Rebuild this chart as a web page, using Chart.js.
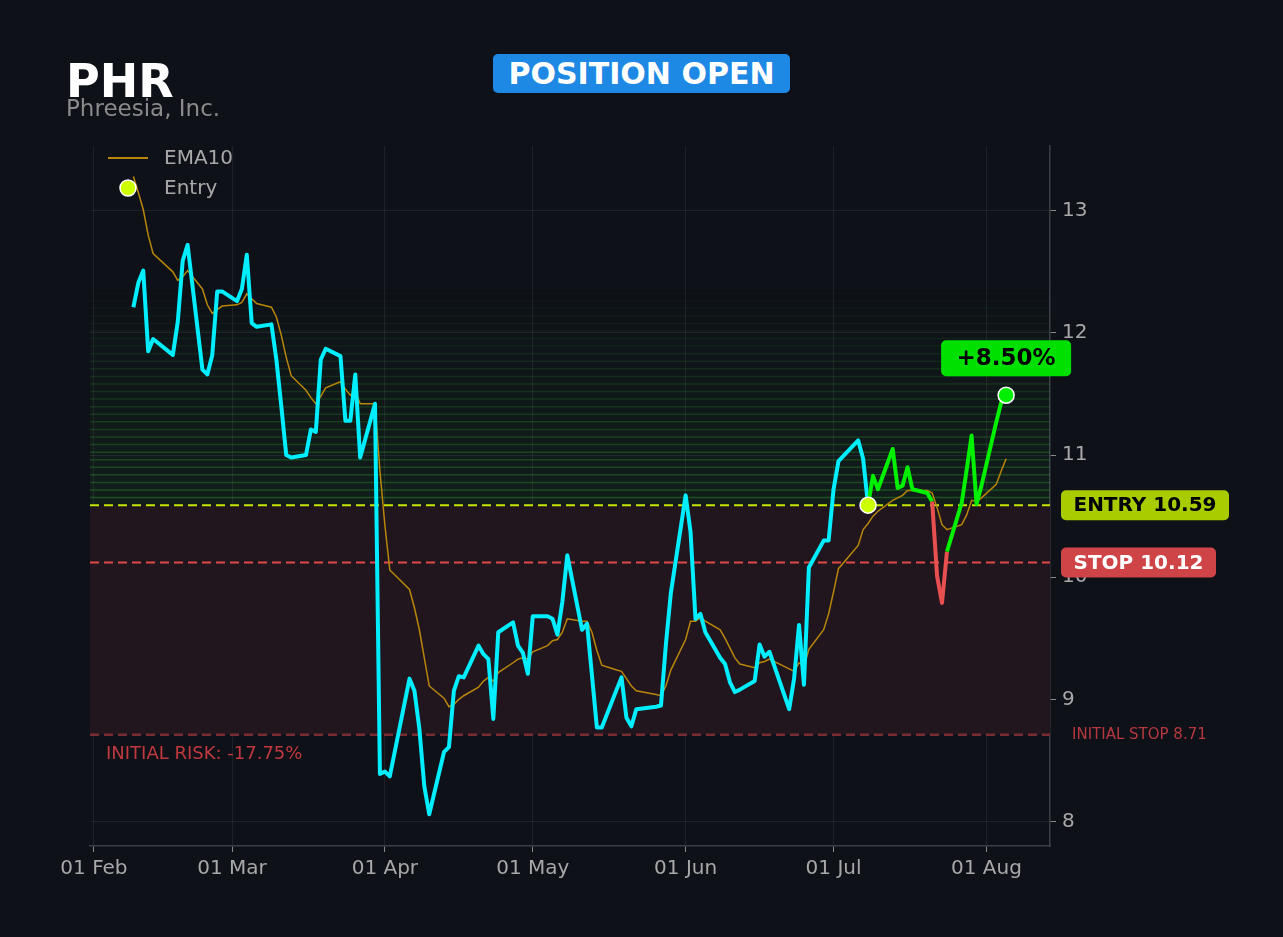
<!DOCTYPE html>
<html lang="en">
  <head>
    <meta charset="UTF-8" />
    <title>PHR - Position Open</title>
    <style>
      body {
        margin: 0;
        background: #0e1118;
        font-family: "DejaVu Sans", sans-serif;
      }
      .wrap {
        position: relative;
        width: 1283px;
        height: 937px;
      }
      canvas {
        position: absolute;
        left: 0;
        top: 0;
      }
      .ticker {
        position: absolute;
        left: 66px;
        top: 58px;
        font-size: 46px;
        font-weight: bold;
        color: #fff;
        line-height: 1;
      }
      .name {
        position: absolute;
        left: 66px;
        top: 97px;
        font-size: 23px;
        color: #8a8a8a;
        line-height: 1;
      }
      .status {
        position: absolute;
        left: 493px;
        top: 54px;
        width: 297px;
        height: 39px;
        background: #1e88e5;
        border-radius: 5px;
        color: #fff;
        font-weight: bold;
        font-size: 30px;
        display: flex;
        align-items: center;
        justify-content: center;
      }
    </style>
    <script src="https://cdn.jsdelivr.net/npm/chart.js"></script>
  </head>
  <body>
    <div class="wrap">
      <canvas id="chart" width="1283" height="937"></canvas>
      <div class="ticker">PHR</div>
      <div class="name">Phreesia, Inc.</div>
      <div class="status">POSITION OPEN</div>
    </div>

    <script>
      // trading days (2026), close price and EMA10
      const YEAR = 2026;
      const dates = [
        '02-09', '02-10', '02-11', '02-12', '02-13',
        '02-17', '02-18', '02-19', '02-20',
        '02-23', '02-24', '02-25', '02-26', '02-27',
        '03-02', '03-03', '03-04', '03-05', '03-06',
        '03-09', '03-10', '03-11', '03-12', '03-13',
        '03-16', '03-17', '03-18', '03-19', '03-20',
        '03-23', '03-24', '03-25', '03-26', '03-27',
        '03-30', '03-31', '04-01', '04-02',
        '04-06', '04-07', '04-08', '04-09', '04-10',
        '04-13', '04-14', '04-15', '04-16', '04-17',
        '04-20', '04-21', '04-22', '04-23', '04-24',
        '04-27', '04-28', '04-29', '04-30', '05-01',
        '05-04', '05-05', '05-06', '05-07', '05-08',
        '05-11', '05-12', '05-13', '05-14', '05-15',
        '05-18', '05-19', '05-20', '05-21', '05-22',
        '05-26', '05-27', '05-28', '05-29',
        '06-01', '06-02', '06-03', '06-04', '06-05',
        '06-08', '06-09', '06-10', '06-11', '06-12',
        '06-15', '06-16', '06-17', '06-18',
        '06-22', '06-23', '06-24', '06-25', '06-26',
        '06-29', '06-30', '07-01', '07-02',
        '07-06', '07-07', '07-08', '07-09', '07-10',
        '07-13', '07-14', '07-15', '07-16', '07-17',
        '07-20', '07-21', '07-22', '07-23', '07-24',
        '07-27', '07-28', '07-29', '07-30', '07-31',
        '08-03', '08-04', '08-05'
      ];
      const prices = [
        12.21, 12.41, 12.51, 11.85, 11.95,
        11.82, 12.09, 12.59, 12.72,
        11.70, 11.66, 11.82, 12.34, 12.34,
        12.26, 12.36, 12.64, 12.08, 12.05,
        12.07, 11.78, 11.40, 11.00, 10.98,
        11.00, 11.21, 11.19, 11.78, 11.87,
        11.81, 11.28, 11.28, 11.66, 10.98,
        11.42, 8.39, 8.41, 8.37,
        9.17, 9.07, 8.76, 8.29, 8.06,
        8.57, 8.61, 9.07, 9.19, 9.18,
        9.44, 9.37, 9.33, 8.84, 9.55,
        9.63, 9.44, 9.38, 9.21, 9.68,
        9.68, 9.66, 9.53, 9.80, 10.18,
        9.57, 9.62, 9.20, 8.77, 8.77,
        9.08, 9.18, 8.85, 8.78, 8.92,
        8.94, 8.95, 9.45, 9.87,
        10.67, 10.37, 9.66, 9.70, 9.55,
        9.34, 9.29, 9.14, 9.06, 9.08,
        9.15, 9.45, 9.35, 9.39,
        8.92, 9.17, 9.61, 9.12, 10.08,
        10.30, 10.30, 10.72, 10.95,
        11.12, 10.97, 10.59, 10.83, 10.72,
        11.05, 10.73, 10.75, 10.90, 10.72,
        10.69, 10.62, 10.01, 9.79, 10.21,
        10.61, 10.88, 11.16, 10.60, 10.75,
        11.27, 11.43, 11.49
      ];
      const ema10 = [
        13.28, 13.15, 13.01, 12.80, 12.65,
        12.50, 12.43, 12.46, 12.51,
        12.36, 12.23, 12.16, 12.19, 12.22,
        12.23, 12.25, 12.32, 12.28, 12.24,
        12.21, 12.13, 11.98, 11.80, 11.65,
        11.53, 11.47, 11.42, 11.48, 11.55,
        11.60, 11.54, 11.49, 11.52, 11.42,
        11.42, 10.87, 10.43, 10.06,
        9.90, 9.75, 9.57, 9.34, 9.11,
        9.01, 8.94, 8.96, 9.00, 9.03,
        9.10, 9.15, 9.18, 9.15, 9.22,
        9.30, 9.33, 9.34, 9.33, 9.39,
        9.44, 9.48, 9.49, 9.55, 9.66,
        9.64, 9.64, 9.55, 9.40, 9.28,
        9.24, 9.23, 9.17, 9.11, 9.07,
        9.04, 9.03, 9.11, 9.24,
        9.49, 9.64, 9.64, 9.67, 9.64,
        9.57, 9.50, 9.42, 9.34, 9.29,
        9.26, 9.30, 9.31, 9.33,
        9.25, 9.23, 9.30, 9.27, 9.41,
        9.57, 9.70, 9.88, 10.07,
        10.26, 10.39, 10.44, 10.50, 10.54,
        10.63, 10.65, 10.67, 10.71, 10.71,
        10.71, 10.69, 10.57, 10.43, 10.39,
        10.43, 10.51, 10.63, 10.62, 10.65,
        10.76, 10.87, 10.97
      ];

      const entryDate = '07-08';
      const entryPrice = 10.59;
      const stopPrice = 10.12;
      const initialStop = 8.71;
      const greenTop = 12.45;
      const pnlText = '+8.50%';
      const riskText = 'INITIAL RISK: -17.75%';

      const monthTicks = ['02-01', '03-01', '04-01', '05-01', '06-01', '07-01', '08-01'];
      const monthLabels = ['01 Feb', '01 Mar', '01 Apr', '01 May', '01 Jun', '01 Jul', '01 Aug'];
      const yTicks = [8, 9, 10, 11, 12, 13];

      const CYAN = '#00eeff';
      const GREEN = '#00f000';
      const RED = '#e85050';
      const TICK_TEXT = '#a8a8a8';

      const day0 = Date.UTC(YEAR, 1, 1);
      function dayOf(md) {
        const [m, d] = md.split('-').map(Number);
        return (Date.UTC(YEAR, m - 1, d) - day0) / 86400000;
      }

      const days = dates.map(dayOf);
      const entryIdx = dates.indexOf(entryDate);
      const lastIdx = dates.length - 1;

      // background zones + level lines, under the price
      const zones = {
        id: 'zones',
        beforeDatasetsDraw(chart) {
          const { ctx, chartArea: a, scales: { y } } = chart;
          const yE = y.getPixelForValue(entryPrice);
          const yS = y.getPixelForValue(stopPrice);
          const yI = y.getPixelForValue(initialStop);
          const yT = y.getPixelForValue(greenTop);
          ctx.save();
          ctx.beginPath();
          ctx.rect(a.left, a.top, a.width, a.height);
          ctx.clip();

          ctx.fillStyle = '#21161e';
          ctx.fillRect(a.left, yE, a.width, yI - yE);

          const g = ctx.createLinearGradient(0, yE, 0, yT);
          g.addColorStop(0, 'rgba(60,200,60,0.08)');
          g.addColorStop(1, 'rgba(60,200,60,0)');
          ctx.fillStyle = g;
          ctx.fillRect(a.left, yT, a.width, yE - yT);

          const n = 30;
          ctx.lineWidth = 1.5;
          for (let i = 1; i < n; i++) {
            const yy = yE + (yT - yE) * i / n;
            ctx.strokeStyle = 'rgba(60,200,60,' + (0.3 * (1 - i / n)).toFixed(3) + ')';
            ctx.beginPath();
            ctx.moveTo(a.left, yy);
            ctx.lineTo(a.right, yy);
            ctx.stroke();
          }

          ctx.setLineDash([9, 5]);
          const dashed = [[yI, '#7a2c33', 2.5], [yS, '#e04848', 2], [yE, '#c8e600', 2]];
          dashed.forEach(([yy, col, w]) => {
            ctx.strokeStyle = col;
            ctx.lineWidth = w;
            ctx.beginPath();
            ctx.moveTo(a.left, yy);
            ctx.lineTo(a.right, yy);
            ctx.stroke();
          });
          ctx.restore();
        }
      };

      function badge(ctx, cx, cy, w, h, bg, fg, text, size) {
        ctx.fillStyle = bg;
        ctx.beginPath();
        ctx.roundRect(cx - w / 2, cy - h / 2, w, h, 5);
        ctx.fill();
        ctx.fillStyle = fg;
        ctx.font = 'bold ' + size + 'px "DejaVu Sans"';
        ctx.textAlign = 'center';
        ctx.textBaseline = 'middle';
        ctx.fillText(text, cx, cy + 1);
      }

      // labels, badges and legend on top
      const labels = {
        id: 'labels',
        afterDraw(chart) {
          const { ctx, chartArea: a, scales: { x, y } } = chart;
          ctx.save();
          ctx.font = '18px "DejaVu Sans"';
          ctx.fillStyle = '#c0393f';
          ctx.textAlign = 'left';
          ctx.textBaseline = 'middle';
          ctx.fillText(riskText, a.left + 16, y.getPixelForValue(initialStop) + 19);

          ctx.font = '15px "DejaVu Sans"';
          ctx.fillStyle = '#b5383e';
          ctx.fillText('INITIAL STOP ' + initialStop.toFixed(2), a.right + 22, y.getPixelForValue(initialStop));

          badge(ctx, a.right + 95, y.getPixelForValue(entryPrice), 168, 30, '#a8cc00', '#000',
            'ENTRY ' + entryPrice.toFixed(2), 20);
          badge(ctx, a.right + 88.5, y.getPixelForValue(stopPrice), 155, 30, '#cf4447', '#fff',
            'STOP ' + stopPrice.toFixed(2), 20);
          badge(ctx, x.getPixelForValue(days[lastIdx]), y.getPixelForValue(prices[lastIdx]) - 37,
            130, 36, '#00e000', '#000', pnlText, 23);

          // legend
          const lx = a.left + 18;
          ctx.strokeStyle = '#b8860b';
          ctx.lineWidth = 2;
          ctx.beginPath();
          ctx.moveTo(lx, 158);
          ctx.lineTo(lx + 40, 158);
          ctx.stroke();
          ctx.fillStyle = '#ccff00';
          ctx.strokeStyle = '#fff';
          ctx.lineWidth = 1.5;
          ctx.beginPath();
          ctx.arc(lx + 20, 188, 8, 0, Math.PI * 2);
          ctx.fill();
          ctx.stroke();
          ctx.font = '20px "DejaVu Sans"';
          ctx.fillStyle = '#a8a8a8';
          ctx.textAlign = 'left';
          ctx.textBaseline = 'middle';
          ctx.fillText('EMA10', lx + 56, 159);
          ctx.fillText('Entry', lx + 56, 189);
          ctx.restore();
        }
      };

      new Chart(document.getElementById('chart'), {
        type: 'line',
        data: {
          datasets: [
            {
              label: 'Entry',
              data: [{ x: days[entryIdx], y: entryPrice }],
              showLine: false,
              pointRadius: 8,
              pointBackgroundColor: '#ccff00',
              pointBorderColor: '#fff',
              pointBorderWidth: 1.5
            },
            {
              label: 'Last',
              data: [{ x: days[lastIdx], y: prices[lastIdx] }],
              showLine: false,
              pointRadius: 8,
              pointBackgroundColor: '#00ee00',
              pointBorderColor: '#fff',
              pointBorderWidth: 1.5
            },
            {
              label: 'Price',
              data: days.map((d, i) => ({ x: d, y: prices[i] })),
              borderWidth: 4,
              borderColor: CYAN,
              pointRadius: 0,
              tension: 0,
              borderJoinStyle: 'round',
              segment: {
                borderColor: c => {
                  if (c.p0DataIndex < entryIdx) return CYAN;
                  if (c.p0.parsed.y < stopPrice || c.p1.parsed.y < stopPrice) return RED;
                  return GREEN;
                }
              }
            },
            {
              label: 'EMA10',
              data: days.map((d, i) => ({ x: d, y: ema10[i] })),
              borderWidth: 1.5,
              borderColor: '#b8860b',
              pointRadius: 0,
              tension: 0
            }
          ]
        },
        options: {
          responsive: false,
          animation: false,
          events: [],
          layout: { padding: { left: 90, top: 146, right: 0, bottom: 0 } },
          plugins: {
            legend: { display: false },
            tooltip: { enabled: false }
          },
          scales: {
            x: {
              type: 'linear',
              min: -0.8,
              max: 193.9,
              afterBuildTicks: s => { s.ticks = monthTicks.map(m => ({ value: dayOf(m) })); },
              afterFit: s => { s.height = 91; },
              ticks: {
                autoSkip: false,
                maxRotation: 0,
                padding: 5,
                color: TICK_TEXT,
                font: { family: 'DejaVu Sans', size: 20 },
                callback: (v, i) => monthLabels[i]
              },
              grid: { color: 'rgba(255,255,255,0.07)', tickColor: '#8a8a8a', tickLength: 6 },
              border: { display: true, color: '#3b3e46', width: 1.5 }
            },
            y: {
              position: 'right',
              min: 7.8,
              max: 13.53,
              afterBuildTicks: s => { s.ticks = yTicks.map(v => ({ value: v })); },
              afterFit: s => { s.width = 233; },
              ticks: {
                padding: 6,
                color: TICK_TEXT,
                font: { family: 'DejaVu Sans', size: 20 },
                callback: v => String(v)
              },
              grid: { color: 'rgba(255,255,255,0.07)', tickColor: '#8a8a8a', tickLength: 6 },
              border: { display: true, color: '#3b3e46', width: 1.5 }
            }
          }
        },
        plugins: [zones, labels]
      });
    </script>
  </body>
</html>
